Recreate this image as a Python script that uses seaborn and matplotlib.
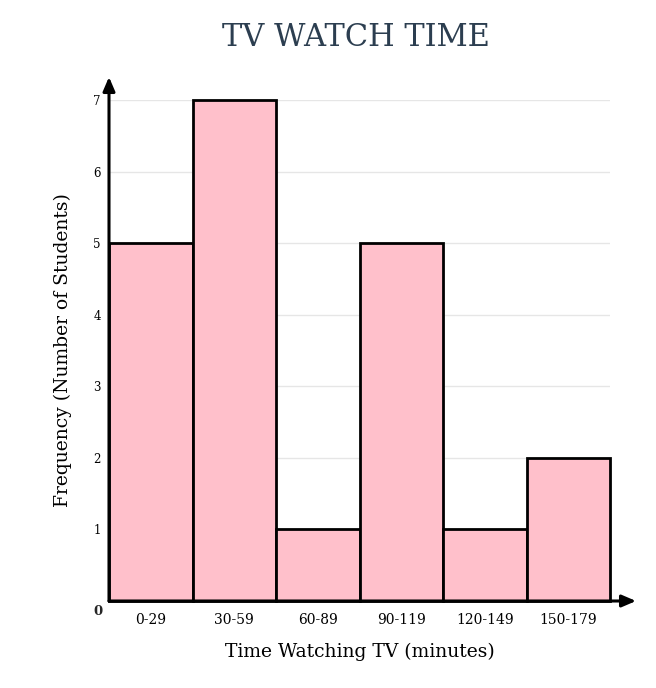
#!/usr/bin/env python3
"""Histogram-style bar chart of TV watch time per student."""

import matplotlib.pyplot as plt
import pandas as pd
import seaborn as sns

RANGES = ["0-29", "30-59", "60-89", "90-119", "120-149", "150-179"]
STUDENTS = [5, 7, 1, 5, 1, 2]
Y_TICKS = [1, 2, 3, 4, 5, 6, 7]

PINK = "#FFC0CB"
TITLE_COLOR = "#2C3E50"
SERIF = ["DejaVu Serif"]

sns.set_theme(style="white")
plt.rcParams["font.family"] = SERIF

df = pd.DataFrame({"range": RANGES, "students": STUDENTS})

fig = plt.figure(figsize=(6.56, 6.88), dpi=100)
ax = fig.add_axes([109 / 656, 87 / 688, 501 / 656, 501 / 688])

sns.barplot(
    data=df,
    x="range",
    y="students",
    order=RANGES,
    color=PINK,
    width=1.0,
    edgecolor="black",
    linewidth=2,
    saturation=1,
    ax=ax,
    zorder=2,
)
for bar in ax.patches:
    bar.set_clip_on(False)

ax.set_xlim(-0.5, len(RANGES) - 0.5)
ax.set_ylim(0, 7)
ax.set_yticks(Y_TICKS)
ax.yaxis.grid(True, color="#E6E6E6", linewidth=1, zorder=0)
ax.set_axisbelow(True)
for side in ax.spines.values():
    side.set_visible(False)

ax.tick_params(axis="y", length=0, pad=6, labelsize=8.5, labelcolor="black")
ax.tick_params(axis="x", length=0, pad=9, labelsize=10, labelcolor="black")
ax.text(-0.012, -0.008, "0", transform=ax.transAxes, ha="right", va="top",
        fontsize=9.5, fontweight="bold")

# axis arrows
arrow = dict(arrowstyle="-|>,head_length=0.7,head_width=0.3", color="black", lw=2.2,
             shrinkA=0, shrinkB=0)
ax.annotate("", xy=(1.052, 0), xytext=(0, 0), xycoords="axes fraction",
            arrowprops=arrow, annotation_clip=False)
ax.annotate("", xy=(0, 1.046), xytext=(0, 0), xycoords="axes fraction",
            arrowprops=arrow, annotation_clip=False)

ax.set_xlabel("Time Watching TV (minutes)", fontsize=13.5, labelpad=11, color="black")
ax.set_ylabel("Frequency (Number of Students)", fontsize=13.5, labelpad=15, color="black")
fig.suptitle("TV WATCH TIME", y=1 - 37 / 688, va="center", fontsize=22,
             color=TITLE_COLOR, x=356 / 656)

fig.savefig("out.png", dpi=100, facecolor="white")
